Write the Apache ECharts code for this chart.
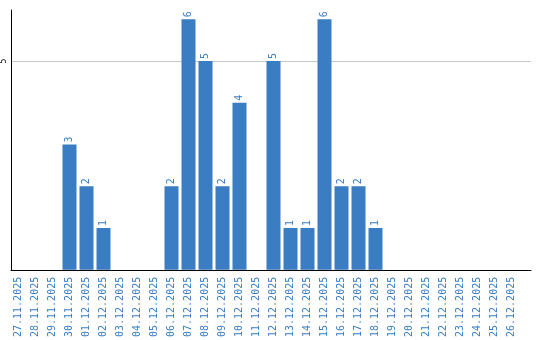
<!DOCTYPE html>
<html><head><meta charset="utf-8">
<script src="https://cdn.jsdelivr.net/npm/echarts@6/dist/echarts.min.js"></script>
<style>html,body{margin:0;padding:0;background:#fff}#c{width:540px;height:340px}</style>
</head><body><div id="c"></div>
<script>
const categories = ["27.11.2025","28.11.2025","29.11.2025","30.11.2025","01.12.2025","02.12.2025","03.12.2025","04.12.2025","05.12.2025","06.12.2025","07.12.2025","08.12.2025","09.12.2025","10.12.2025","11.12.2025","12.12.2025","13.12.2025","14.12.2025","15.12.2025","16.12.2025","17.12.2025","18.12.2025","19.12.2025","20.12.2025","21.12.2025","22.12.2025","23.12.2025","24.12.2025","25.12.2025","26.12.2025"];
const values = [0,0,0,3,2,1,0,0,0,2,6,5,2,4,0,5,1,1,6,2,2,1,0,0,0,0,0,0,0,0];
const yTicks = [5];
const blue = '#3a7dc2';
const yMax = 6.22;
const chart = echarts.init(document.getElementById('c'), null, {renderer:'canvas'});
chart.setOption({
  animation:false,
  grid:[
    {left:10,right:9,top:10,bottom:70,containLabel:false},
    {left:10,right:20,top:10,bottom:70,containLabel:false}
  ],
  xAxis:[
    {gridIndex:0,type:'value',min:0,max:1,
      axisLine:{show:true,onZero:false,lineStyle:{color:'#000',width:1}},axisTick:{show:false},
      axisLabel:{show:false},splitLine:{show:false}},
    {gridIndex:1,type:'category',data:categories,
      axisLine:{show:false},axisTick:{show:false},
      axisLabel:{rotate:90,interval:0,color:blue,fontFamily:'DejaVu Sans Mono',fontSize:10,margin:7}}
  ],
  yAxis:[
    {gridIndex:0,type:'value',min:0,max:yMax,interval:5,
      axisLine:{show:true,lineStyle:{color:'#000',width:1}},axisTick:{show:false},
      splitLine:{lineStyle:{color:'#c8c8c8'},showMaxLine:false,showMinLine:false},
      axisLabel:{rotate:90,color:'#000',fontFamily:'DejaVu Sans Mono',fontSize:8,margin:3,
        formatter:v=>yTicks.includes(v)?String(v):''}},
    {gridIndex:1,type:'value',min:0,max:yMax,show:false,splitLine:{show:false}}
  ],
  series:[{type:'bar',xAxisIndex:1,yAxisIndex:1,data:values,barWidth:14,itemStyle:{color:blue},
    label:{show:true,position:'top',rotate:90,align:'left',verticalAlign:'middle',distance:2,
      color:blue,fontFamily:'DejaVu Sans Mono',fontSize:10,
      formatter:p=>p.value>0?String(p.value):''}}]
});
</script></body></html>
